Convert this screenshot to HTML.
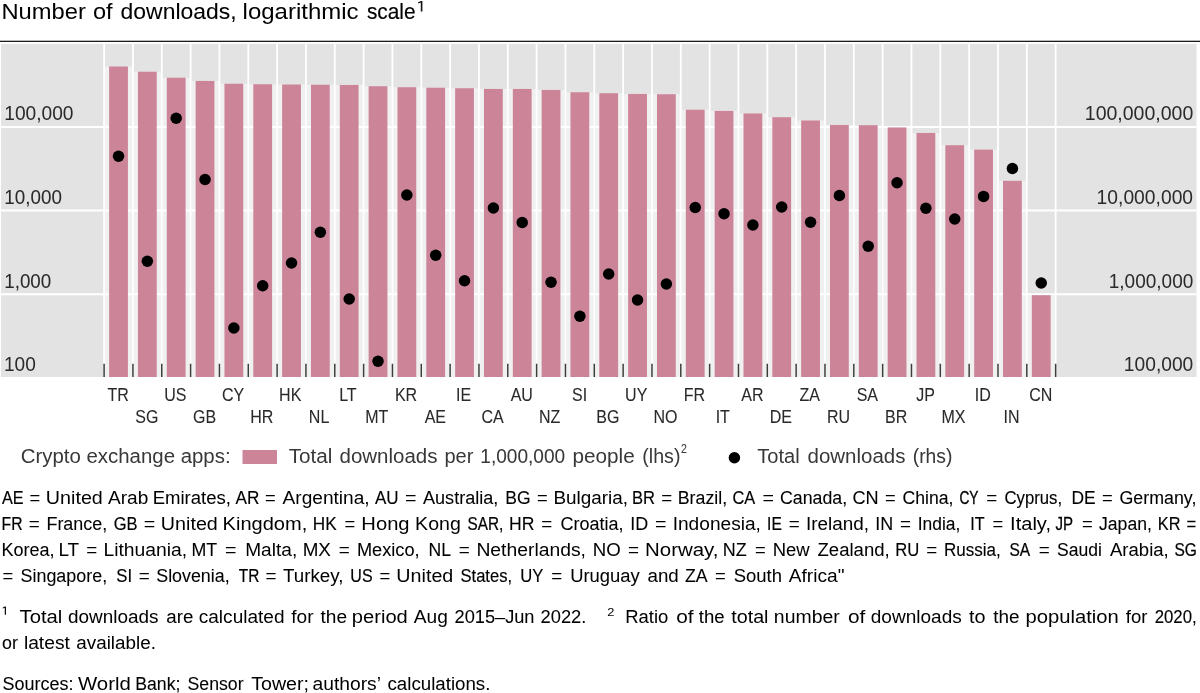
<!DOCTYPE html>
<html><head><meta charset="utf-8"><title>chart</title>
<style>
html,body{margin:0;padding:0;background:#fff;}
body{width:1200px;height:693px;position:relative;overflow:hidden;font-family:"Liberation Sans",sans-serif;}
svg{position:absolute;left:0;top:0;display:block;will-change:transform;}
svg text{font-family:"Liberation Sans",sans-serif;white-space:pre;}
</style></head><body>
<svg width="1200" height="693" viewBox="0 0 1200 693">
<rect x="1.0" y="43.8" width="1195.5" height="333.2" fill="#e3e3e3"/>
<line x1="1.0" x2="1196.5" y1="127.0" y2="127.0" stroke="#fff" stroke-width="1.8"/>
<line x1="1.0" x2="1196.5" y1="210.5" y2="210.5" stroke="#fff" stroke-width="1.8"/>
<line x1="1.0" x2="1196.5" y1="294.25" y2="294.25" stroke="#fff" stroke-width="1.8"/>
<line x1="104.10" x2="104.10" y1="43.8" y2="377.0" stroke="#fff" stroke-width="1.8"/>
<line x1="132.94" x2="132.94" y1="43.8" y2="377.0" stroke="#fff" stroke-width="1.8"/>
<line x1="161.77" x2="161.77" y1="43.8" y2="377.0" stroke="#fff" stroke-width="1.8"/>
<line x1="190.60" x2="190.60" y1="43.8" y2="377.0" stroke="#fff" stroke-width="1.8"/>
<line x1="219.44" x2="219.44" y1="43.8" y2="377.0" stroke="#fff" stroke-width="1.8"/>
<line x1="248.28" x2="248.28" y1="43.8" y2="377.0" stroke="#fff" stroke-width="1.8"/>
<line x1="277.11" x2="277.11" y1="43.8" y2="377.0" stroke="#fff" stroke-width="1.8"/>
<line x1="305.94" x2="305.94" y1="43.8" y2="377.0" stroke="#fff" stroke-width="1.8"/>
<line x1="334.78" x2="334.78" y1="43.8" y2="377.0" stroke="#fff" stroke-width="1.8"/>
<line x1="363.62" x2="363.62" y1="43.8" y2="377.0" stroke="#fff" stroke-width="1.8"/>
<line x1="392.45" x2="392.45" y1="43.8" y2="377.0" stroke="#fff" stroke-width="1.8"/>
<line x1="421.28" x2="421.28" y1="43.8" y2="377.0" stroke="#fff" stroke-width="1.8"/>
<line x1="450.12" x2="450.12" y1="43.8" y2="377.0" stroke="#fff" stroke-width="1.8"/>
<line x1="478.96" x2="478.96" y1="43.8" y2="377.0" stroke="#fff" stroke-width="1.8"/>
<line x1="507.79" x2="507.79" y1="43.8" y2="377.0" stroke="#fff" stroke-width="1.8"/>
<line x1="536.62" x2="536.62" y1="43.8" y2="377.0" stroke="#fff" stroke-width="1.8"/>
<line x1="565.46" x2="565.46" y1="43.8" y2="377.0" stroke="#fff" stroke-width="1.8"/>
<line x1="594.29" x2="594.29" y1="43.8" y2="377.0" stroke="#fff" stroke-width="1.8"/>
<line x1="623.13" x2="623.13" y1="43.8" y2="377.0" stroke="#fff" stroke-width="1.8"/>
<line x1="651.97" x2="651.97" y1="43.8" y2="377.0" stroke="#fff" stroke-width="1.8"/>
<line x1="680.80" x2="680.80" y1="43.8" y2="377.0" stroke="#fff" stroke-width="1.8"/>
<line x1="709.63" x2="709.63" y1="43.8" y2="377.0" stroke="#fff" stroke-width="1.8"/>
<line x1="738.47" x2="738.47" y1="43.8" y2="377.0" stroke="#fff" stroke-width="1.8"/>
<line x1="767.31" x2="767.31" y1="43.8" y2="377.0" stroke="#fff" stroke-width="1.8"/>
<line x1="796.14" x2="796.14" y1="43.8" y2="377.0" stroke="#fff" stroke-width="1.8"/>
<line x1="824.98" x2="824.98" y1="43.8" y2="377.0" stroke="#fff" stroke-width="1.8"/>
<line x1="853.81" x2="853.81" y1="43.8" y2="377.0" stroke="#fff" stroke-width="1.8"/>
<line x1="882.65" x2="882.65" y1="43.8" y2="377.0" stroke="#fff" stroke-width="1.8"/>
<line x1="911.48" x2="911.48" y1="43.8" y2="377.0" stroke="#fff" stroke-width="1.8"/>
<line x1="940.32" x2="940.32" y1="43.8" y2="377.0" stroke="#fff" stroke-width="1.8"/>
<line x1="969.15" x2="969.15" y1="43.8" y2="377.0" stroke="#fff" stroke-width="1.8"/>
<line x1="997.99" x2="997.99" y1="43.8" y2="377.0" stroke="#fff" stroke-width="1.8"/>
<line x1="1026.82" x2="1026.82" y1="43.8" y2="377.0" stroke="#fff" stroke-width="1.8"/>
<line x1="1055.65" x2="1055.65" y1="43.8" y2="377.0" stroke="#fff" stroke-width="1.8"/>
<rect x="104.72" y="66.45" width="27.6" height="310.55" fill="#fff" fill-opacity="0.45"/>
<rect x="133.55" y="71.7" width="27.6" height="305.30" fill="#fff" fill-opacity="0.45"/>
<rect x="162.39" y="77.7" width="27.6" height="299.30" fill="#fff" fill-opacity="0.45"/>
<rect x="191.22" y="80.95" width="27.6" height="296.05" fill="#fff" fill-opacity="0.45"/>
<rect x="220.06" y="83.7" width="27.6" height="293.30" fill="#fff" fill-opacity="0.45"/>
<rect x="248.89" y="84.2" width="27.6" height="292.80" fill="#fff" fill-opacity="0.45"/>
<rect x="277.73" y="84.45" width="27.6" height="292.55" fill="#fff" fill-opacity="0.45"/>
<rect x="306.56" y="84.7" width="27.6" height="292.30" fill="#fff" fill-opacity="0.45"/>
<rect x="335.40" y="84.95" width="27.6" height="292.05" fill="#fff" fill-opacity="0.45"/>
<rect x="364.23" y="86.2" width="27.6" height="290.80" fill="#fff" fill-opacity="0.45"/>
<rect x="393.07" y="87.2" width="27.6" height="289.80" fill="#fff" fill-opacity="0.45"/>
<rect x="421.90" y="87.7" width="27.6" height="289.30" fill="#fff" fill-opacity="0.45"/>
<rect x="450.74" y="88.2" width="27.6" height="288.80" fill="#fff" fill-opacity="0.45"/>
<rect x="479.57" y="88.95" width="27.6" height="288.05" fill="#fff" fill-opacity="0.45"/>
<rect x="508.41" y="88.95" width="27.6" height="288.05" fill="#fff" fill-opacity="0.45"/>
<rect x="537.24" y="89.95" width="27.6" height="287.05" fill="#fff" fill-opacity="0.45"/>
<rect x="566.08" y="92.2" width="27.6" height="284.80" fill="#fff" fill-opacity="0.45"/>
<rect x="594.91" y="93.2" width="27.6" height="283.80" fill="#fff" fill-opacity="0.45"/>
<rect x="623.75" y="93.95" width="27.6" height="283.05" fill="#fff" fill-opacity="0.45"/>
<rect x="652.58" y="94.2" width="27.6" height="282.80" fill="#fff" fill-opacity="0.45"/>
<rect x="681.42" y="109.7" width="27.6" height="267.30" fill="#fff" fill-opacity="0.45"/>
<rect x="710.25" y="110.95" width="27.6" height="266.05" fill="#fff" fill-opacity="0.45"/>
<rect x="739.09" y="113.45" width="27.6" height="263.55" fill="#fff" fill-opacity="0.45"/>
<rect x="767.92" y="117.2" width="27.6" height="259.80" fill="#fff" fill-opacity="0.45"/>
<rect x="796.76" y="120.45" width="27.6" height="256.55" fill="#fff" fill-opacity="0.45"/>
<rect x="825.59" y="124.95" width="27.6" height="252.05" fill="#fff" fill-opacity="0.45"/>
<rect x="854.43" y="125.2" width="27.6" height="251.80" fill="#fff" fill-opacity="0.45"/>
<rect x="883.26" y="127.45" width="27.6" height="249.55" fill="#fff" fill-opacity="0.45"/>
<rect x="912.10" y="132.95" width="27.6" height="244.05" fill="#fff" fill-opacity="0.45"/>
<rect x="940.93" y="145.2" width="27.6" height="231.80" fill="#fff" fill-opacity="0.45"/>
<rect x="969.77" y="149.6" width="27.6" height="227.40" fill="#fff" fill-opacity="0.45"/>
<rect x="998.60" y="180.79999999999998" width="27.6" height="196.20" fill="#fff" fill-opacity="0.45"/>
<rect x="1027.44" y="295.2" width="27.6" height="81.80" fill="#fff" fill-opacity="0.45"/>
<rect x="109.12" y="66.45" width="18.8" height="310.55" fill="#cc8499"/>
<rect x="137.95" y="71.7" width="18.8" height="305.30" fill="#cc8499"/>
<rect x="166.79" y="77.7" width="18.8" height="299.30" fill="#cc8499"/>
<rect x="195.62" y="80.95" width="18.8" height="296.05" fill="#cc8499"/>
<rect x="224.46" y="83.7" width="18.8" height="293.30" fill="#cc8499"/>
<rect x="253.29" y="84.2" width="18.8" height="292.80" fill="#cc8499"/>
<rect x="282.13" y="84.45" width="18.8" height="292.55" fill="#cc8499"/>
<rect x="310.96" y="84.7" width="18.8" height="292.30" fill="#cc8499"/>
<rect x="339.80" y="84.95" width="18.8" height="292.05" fill="#cc8499"/>
<rect x="368.63" y="86.2" width="18.8" height="290.80" fill="#cc8499"/>
<rect x="397.47" y="87.2" width="18.8" height="289.80" fill="#cc8499"/>
<rect x="426.30" y="87.7" width="18.8" height="289.30" fill="#cc8499"/>
<rect x="455.14" y="88.2" width="18.8" height="288.80" fill="#cc8499"/>
<rect x="483.97" y="88.95" width="18.8" height="288.05" fill="#cc8499"/>
<rect x="512.81" y="88.95" width="18.8" height="288.05" fill="#cc8499"/>
<rect x="541.64" y="89.95" width="18.8" height="287.05" fill="#cc8499"/>
<rect x="570.48" y="92.2" width="18.8" height="284.80" fill="#cc8499"/>
<rect x="599.31" y="93.2" width="18.8" height="283.80" fill="#cc8499"/>
<rect x="628.15" y="93.95" width="18.8" height="283.05" fill="#cc8499"/>
<rect x="656.98" y="94.2" width="18.8" height="282.80" fill="#cc8499"/>
<rect x="685.82" y="109.7" width="18.8" height="267.30" fill="#cc8499"/>
<rect x="714.65" y="110.95" width="18.8" height="266.05" fill="#cc8499"/>
<rect x="743.49" y="113.45" width="18.8" height="263.55" fill="#cc8499"/>
<rect x="772.32" y="117.2" width="18.8" height="259.80" fill="#cc8499"/>
<rect x="801.16" y="120.45" width="18.8" height="256.55" fill="#cc8499"/>
<rect x="829.99" y="124.95" width="18.8" height="252.05" fill="#cc8499"/>
<rect x="858.83" y="125.2" width="18.8" height="251.80" fill="#cc8499"/>
<rect x="887.66" y="127.45" width="18.8" height="249.55" fill="#cc8499"/>
<rect x="916.50" y="132.95" width="18.8" height="244.05" fill="#cc8499"/>
<rect x="945.33" y="145.2" width="18.8" height="231.80" fill="#cc8499"/>
<rect x="974.17" y="149.6" width="18.8" height="227.40" fill="#cc8499"/>
<rect x="1003.00" y="180.79999999999998" width="18.8" height="196.20" fill="#cc8499"/>
<rect x="1031.84" y="295.2" width="18.8" height="81.80" fill="#cc8499"/>
<line x1="104.10" x2="104.10" y1="363.75" y2="377.0" stroke="#3a3f3a" stroke-width="1.5"/>
<line x1="132.94" x2="132.94" y1="363.75" y2="377.0" stroke="#3a3f3a" stroke-width="1.5"/>
<line x1="161.77" x2="161.77" y1="363.75" y2="377.0" stroke="#3a3f3a" stroke-width="1.5"/>
<line x1="190.60" x2="190.60" y1="363.75" y2="377.0" stroke="#3a3f3a" stroke-width="1.5"/>
<line x1="219.44" x2="219.44" y1="363.75" y2="377.0" stroke="#3a3f3a" stroke-width="1.5"/>
<line x1="248.28" x2="248.28" y1="363.75" y2="377.0" stroke="#3a3f3a" stroke-width="1.5"/>
<line x1="277.11" x2="277.11" y1="363.75" y2="377.0" stroke="#3a3f3a" stroke-width="1.5"/>
<line x1="305.94" x2="305.94" y1="363.75" y2="377.0" stroke="#3a3f3a" stroke-width="1.5"/>
<line x1="334.78" x2="334.78" y1="363.75" y2="377.0" stroke="#3a3f3a" stroke-width="1.5"/>
<line x1="363.62" x2="363.62" y1="363.75" y2="377.0" stroke="#3a3f3a" stroke-width="1.5"/>
<line x1="392.45" x2="392.45" y1="363.75" y2="377.0" stroke="#3a3f3a" stroke-width="1.5"/>
<line x1="421.28" x2="421.28" y1="363.75" y2="377.0" stroke="#3a3f3a" stroke-width="1.5"/>
<line x1="450.12" x2="450.12" y1="363.75" y2="377.0" stroke="#3a3f3a" stroke-width="1.5"/>
<line x1="478.96" x2="478.96" y1="363.75" y2="377.0" stroke="#3a3f3a" stroke-width="1.5"/>
<line x1="507.79" x2="507.79" y1="363.75" y2="377.0" stroke="#3a3f3a" stroke-width="1.5"/>
<line x1="536.62" x2="536.62" y1="363.75" y2="377.0" stroke="#3a3f3a" stroke-width="1.5"/>
<line x1="565.46" x2="565.46" y1="363.75" y2="377.0" stroke="#3a3f3a" stroke-width="1.5"/>
<line x1="594.29" x2="594.29" y1="363.75" y2="377.0" stroke="#3a3f3a" stroke-width="1.5"/>
<line x1="623.13" x2="623.13" y1="363.75" y2="377.0" stroke="#3a3f3a" stroke-width="1.5"/>
<line x1="651.97" x2="651.97" y1="363.75" y2="377.0" stroke="#3a3f3a" stroke-width="1.5"/>
<line x1="680.80" x2="680.80" y1="363.75" y2="377.0" stroke="#3a3f3a" stroke-width="1.5"/>
<line x1="709.63" x2="709.63" y1="363.75" y2="377.0" stroke="#3a3f3a" stroke-width="1.5"/>
<line x1="738.47" x2="738.47" y1="363.75" y2="377.0" stroke="#3a3f3a" stroke-width="1.5"/>
<line x1="767.31" x2="767.31" y1="363.75" y2="377.0" stroke="#3a3f3a" stroke-width="1.5"/>
<line x1="796.14" x2="796.14" y1="363.75" y2="377.0" stroke="#3a3f3a" stroke-width="1.5"/>
<line x1="824.98" x2="824.98" y1="363.75" y2="377.0" stroke="#3a3f3a" stroke-width="1.5"/>
<line x1="853.81" x2="853.81" y1="363.75" y2="377.0" stroke="#3a3f3a" stroke-width="1.5"/>
<line x1="882.65" x2="882.65" y1="363.75" y2="377.0" stroke="#3a3f3a" stroke-width="1.5"/>
<line x1="911.48" x2="911.48" y1="363.75" y2="377.0" stroke="#3a3f3a" stroke-width="1.5"/>
<line x1="940.32" x2="940.32" y1="363.75" y2="377.0" stroke="#3a3f3a" stroke-width="1.5"/>
<line x1="969.15" x2="969.15" y1="363.75" y2="377.0" stroke="#3a3f3a" stroke-width="1.5"/>
<line x1="997.99" x2="997.99" y1="363.75" y2="377.0" stroke="#3a3f3a" stroke-width="1.5"/>
<line x1="1026.82" x2="1026.82" y1="363.75" y2="377.0" stroke="#3a3f3a" stroke-width="1.5"/>
<line x1="1055.65" x2="1055.65" y1="363.75" y2="377.0" stroke="#3a3f3a" stroke-width="1.5"/>
<circle cx="118.52" cy="156.25" r="5.75" fill="#000"/>
<circle cx="147.35" cy="261.25" r="5.75" fill="#000"/>
<circle cx="176.19" cy="118.25" r="5.75" fill="#000"/>
<circle cx="205.02" cy="179.5" r="5.75" fill="#000"/>
<circle cx="233.86" cy="328" r="5.75" fill="#000"/>
<circle cx="262.69" cy="285.75" r="5.75" fill="#000"/>
<circle cx="291.53" cy="263" r="5.75" fill="#000"/>
<circle cx="320.36" cy="232.25" r="5.75" fill="#000"/>
<circle cx="349.20" cy="299" r="5.75" fill="#000"/>
<circle cx="378.03" cy="361.25" r="5.75" fill="#000"/>
<circle cx="406.87" cy="195" r="5.75" fill="#000"/>
<circle cx="435.70" cy="255.25" r="5.75" fill="#000"/>
<circle cx="464.54" cy="280.75" r="5.75" fill="#000"/>
<circle cx="493.37" cy="208" r="5.75" fill="#000"/>
<circle cx="522.21" cy="222.5" r="5.75" fill="#000"/>
<circle cx="551.04" cy="282.25" r="5.75" fill="#000"/>
<circle cx="579.88" cy="316.25" r="5.75" fill="#000"/>
<circle cx="608.71" cy="274" r="5.75" fill="#000"/>
<circle cx="637.55" cy="300" r="5.75" fill="#000"/>
<circle cx="666.38" cy="284" r="5.75" fill="#000"/>
<circle cx="695.22" cy="207.5" r="5.75" fill="#000"/>
<circle cx="724.05" cy="213.75" r="5.75" fill="#000"/>
<circle cx="752.89" cy="225" r="5.75" fill="#000"/>
<circle cx="781.72" cy="207" r="5.75" fill="#000"/>
<circle cx="810.56" cy="222.25" r="5.75" fill="#000"/>
<circle cx="839.39" cy="195.5" r="5.75" fill="#000"/>
<circle cx="868.23" cy="246.25" r="5.75" fill="#000"/>
<circle cx="897.06" cy="182.75" r="5.75" fill="#000"/>
<circle cx="925.90" cy="208.25" r="5.75" fill="#000"/>
<circle cx="954.73" cy="219" r="5.75" fill="#000"/>
<circle cx="983.57" cy="196.4" r="5.75" fill="#000"/>
<circle cx="1012.40" cy="168.5" r="5.75" fill="#000"/>
<circle cx="1041.24" cy="283" r="5.75" fill="#000"/>
<rect x="0" y="40.7" width="1200" height="1.3" fill="#1a1a1a"/>
<text x="4.22" y="120" font-size="19.6" textLength="69.28" lengthAdjust="spacingAndGlyphs" fill="#2a2a2a">100,000</text>
<text x="4.24" y="203.7" font-size="19.6" textLength="57.66" lengthAdjust="spacingAndGlyphs" fill="#2a2a2a" stroke="#2a2a2a" stroke-width="0.04">10,000</text>
<text x="4.24" y="287.6" font-size="19.6" textLength="47.06" lengthAdjust="spacingAndGlyphs" fill="#2a2a2a" stroke="#2a2a2a" stroke-width="0.04">1,000</text>
<text x="3.92" y="370.6" font-size="19.6" textLength="31.87" lengthAdjust="spacingAndGlyphs" fill="#2a2a2a">100</text>
<text x="1084.80" y="120" font-size="19.6" textLength="108.49" lengthAdjust="spacingAndGlyphs" fill="#2a2a2a">100,000,000</text>
<text x="1096.62" y="203.7" font-size="19.6" textLength="96.48" lengthAdjust="spacingAndGlyphs" fill="#2a2a2a">10,000,000</text>
<text x="1108.73" y="287.6" font-size="19.6" textLength="84.57" lengthAdjust="spacingAndGlyphs" fill="#2a2a2a">1,000,000</text>
<text x="1123.82" y="370.6" font-size="19.6" textLength="69.48" lengthAdjust="spacingAndGlyphs" fill="#2a2a2a">100,000</text>
<text x="107.44" y="401.3" font-size="17.5" textLength="21.34" lengthAdjust="spacingAndGlyphs" fill="#2a2a2a" stroke="#2a2a2a" stroke-width="0.08">TR</text>
<text x="135.36" y="422.6" font-size="17.5" textLength="23.14" lengthAdjust="spacingAndGlyphs" fill="#2a2a2a" stroke="#2a2a2a" stroke-width="0.08">SG</text>
<text x="164.22" y="401.3" font-size="17.5" textLength="22.24" lengthAdjust="spacingAndGlyphs" fill="#2a2a2a" stroke="#2a2a2a" stroke-width="0.08">US</text>
<text x="193.06" y="422.6" font-size="17.5" textLength="23.14" lengthAdjust="spacingAndGlyphs" fill="#2a2a2a" stroke="#2a2a2a" stroke-width="0.08">GB</text>
<text x="221.89" y="401.3" font-size="17.5" textLength="22.24" lengthAdjust="spacingAndGlyphs" fill="#2a2a2a" stroke="#2a2a2a" stroke-width="0.08">CY</text>
<text x="250.26" y="422.6" font-size="17.5" textLength="23.13" lengthAdjust="spacingAndGlyphs" fill="#2a2a2a" stroke="#2a2a2a" stroke-width="0.08">HR</text>
<text x="279.10" y="401.3" font-size="17.5" textLength="22.24" lengthAdjust="spacingAndGlyphs" fill="#2a2a2a" stroke="#2a2a2a" stroke-width="0.08">HK</text>
<text x="308.85" y="422.6" font-size="17.5" textLength="20.47" lengthAdjust="spacingAndGlyphs" fill="#2a2a2a" stroke="#2a2a2a" stroke-width="0.08">NL</text>
<text x="339.15" y="401.3" font-size="17.5" textLength="17.50" lengthAdjust="spacingAndGlyphs" fill="#2a2a2a" stroke="#2a2a2a" stroke-width="0.08">LT</text>
<text x="365.17" y="422.6" font-size="17.5" textLength="23.12" lengthAdjust="spacingAndGlyphs" fill="#2a2a2a" stroke="#2a2a2a" stroke-width="0.08">MT</text>
<text x="394.88" y="401.3" font-size="17.5" textLength="22.24" lengthAdjust="spacingAndGlyphs" fill="#2a2a2a" stroke="#2a2a2a" stroke-width="0.08">KR</text>
<text x="424.63" y="422.6" font-size="17.5" textLength="21.36" lengthAdjust="spacingAndGlyphs" fill="#2a2a2a" stroke="#2a2a2a" stroke-width="0.08">AE</text>
<text x="456.12" y="401.3" font-size="17.5" textLength="15.13" lengthAdjust="spacingAndGlyphs" fill="#2a2a2a" stroke="#2a2a2a" stroke-width="0.08">IE</text>
<text x="481.40" y="422.6" font-size="17.5" textLength="22.24" lengthAdjust="spacingAndGlyphs" fill="#2a2a2a" stroke="#2a2a2a" stroke-width="0.08">CA</text>
<text x="510.68" y="401.3" font-size="17.5" textLength="22.24" lengthAdjust="spacingAndGlyphs" fill="#2a2a2a" stroke="#2a2a2a" stroke-width="0.08">AU</text>
<text x="539.07" y="422.6" font-size="17.5" textLength="21.34" lengthAdjust="spacingAndGlyphs" fill="#2a2a2a" stroke="#2a2a2a" stroke-width="0.08">NZ</text>
<text x="572.01" y="401.3" font-size="17.5" textLength="15.13" lengthAdjust="spacingAndGlyphs" fill="#2a2a2a" stroke="#2a2a2a" stroke-width="0.08">SI</text>
<text x="596.27" y="422.6" font-size="17.5" textLength="23.14" lengthAdjust="spacingAndGlyphs" fill="#2a2a2a" stroke="#2a2a2a" stroke-width="0.08">BG</text>
<text x="625.12" y="401.3" font-size="17.5" textLength="22.24" lengthAdjust="spacingAndGlyphs" fill="#2a2a2a" stroke="#2a2a2a" stroke-width="0.08">UY</text>
<text x="653.50" y="422.6" font-size="17.5" textLength="24.02" lengthAdjust="spacingAndGlyphs" fill="#2a2a2a" stroke="#2a2a2a" stroke-width="0.08">NO</text>
<text x="683.68" y="401.3" font-size="17.5" textLength="21.34" lengthAdjust="spacingAndGlyphs" fill="#2a2a2a" stroke="#2a2a2a" stroke-width="0.08">FR</text>
<text x="715.64" y="422.6" font-size="17.5" textLength="14.23" lengthAdjust="spacingAndGlyphs" fill="#2a2a2a" stroke="#2a2a2a" stroke-width="0.08">IT</text>
<text x="741.36" y="401.3" font-size="17.5" textLength="22.24" lengthAdjust="spacingAndGlyphs" fill="#2a2a2a" stroke="#2a2a2a" stroke-width="0.08">AR</text>
<text x="769.75" y="422.6" font-size="17.5" textLength="22.24" lengthAdjust="spacingAndGlyphs" fill="#2a2a2a" stroke="#2a2a2a" stroke-width="0.08">DE</text>
<text x="799.48" y="401.3" font-size="17.5" textLength="20.46" lengthAdjust="spacingAndGlyphs" fill="#2a2a2a" stroke="#2a2a2a" stroke-width="0.08">ZA</text>
<text x="826.96" y="422.6" font-size="17.5" textLength="23.13" lengthAdjust="spacingAndGlyphs" fill="#2a2a2a" stroke="#2a2a2a" stroke-width="0.08">RU</text>
<text x="856.70" y="401.3" font-size="17.5" textLength="21.36" lengthAdjust="spacingAndGlyphs" fill="#2a2a2a" stroke="#2a2a2a" stroke-width="0.08">SA</text>
<text x="885.07" y="422.6" font-size="17.5" textLength="22.24" lengthAdjust="spacingAndGlyphs" fill="#2a2a2a" stroke="#2a2a2a" stroke-width="0.08">BR</text>
<text x="916.16" y="401.3" font-size="17.5" textLength="18.69" lengthAdjust="spacingAndGlyphs" fill="#2a2a2a" stroke="#2a2a2a" stroke-width="0.08">JP</text>
<text x="941.42" y="422.6" font-size="17.5" textLength="24.02" lengthAdjust="spacingAndGlyphs" fill="#2a2a2a" stroke="#2a2a2a" stroke-width="0.08">MX</text>
<text x="974.70" y="401.3" font-size="17.5" textLength="16.01" lengthAdjust="spacingAndGlyphs" fill="#2a2a2a" stroke="#2a2a2a" stroke-width="0.08">ID</text>
<text x="1003.53" y="422.6" font-size="17.5" textLength="16.01" lengthAdjust="spacingAndGlyphs" fill="#2a2a2a" stroke="#2a2a2a" stroke-width="0.08">IN</text>
<text x="1029.27" y="401.3" font-size="17.5" textLength="23.13" lengthAdjust="spacingAndGlyphs" fill="#2a2a2a" stroke="#2a2a2a" stroke-width="0.08">CN</text>
<text x="1.40" y="19" font-size="21.6" textLength="84.41" lengthAdjust="spacingAndGlyphs" fill="#000">Number</text>
<text x="93.00" y="19" font-size="21.6" textLength="19.66" lengthAdjust="spacingAndGlyphs" fill="#000">of</text>
<text x="120.60" y="19" font-size="21.6" textLength="115.96" lengthAdjust="spacingAndGlyphs" fill="#000" stroke="#000" stroke-width="0.06">downloads,</text>
<text x="242.59" y="19" font-size="21.6" textLength="115.93" lengthAdjust="spacingAndGlyphs" fill="#000">logarithmic</text>
<text x="366.90" y="19" font-size="21.6" textLength="48.71" lengthAdjust="spacingAndGlyphs" fill="#000" stroke="#000" stroke-width="0.17">scale</text>
<path d="M420.79 0.90L422.40 0.90L422.40 11.60L420.79 11.60L420.79 2.50L418.33 3.57L417.91 2.40Z" fill="#111"/>
<text x="20.68" y="463.3" font-size="20" textLength="209.91" lengthAdjust="spacingAndGlyphs" fill="#383838">Crypto exchange apps:</text>
<rect x="242.5" y="450" width="34.5" height="14" fill="#cc8499"/>
<text x="288.75" y="463.3" font-size="20" textLength="43.71" lengthAdjust="spacingAndGlyphs" fill="#383838">Total</text>
<text x="339.50" y="463.3" font-size="20" textLength="98.00" lengthAdjust="spacingAndGlyphs" fill="#383838">downloads</text>
<text x="444.50" y="463.3" font-size="20" textLength="28.91" lengthAdjust="spacingAndGlyphs" fill="#383838">per</text>
<text x="480.30" y="463.3" font-size="20" textLength="84.82" lengthAdjust="spacingAndGlyphs" fill="#383838" stroke="#383838" stroke-width="0.05">1,000,000</text>
<text x="572.46" y="463.3" font-size="20" textLength="62.26" lengthAdjust="spacingAndGlyphs" fill="#383838">people</text>
<text x="642.32" y="463.3" font-size="20" textLength="38.13" lengthAdjust="spacingAndGlyphs" fill="#383838">(lhs)</text>
<text x="680.90" y="453.0" font-size="12" textLength="5.91" lengthAdjust="spacingAndGlyphs" fill="#383838" stroke="#383838" stroke-width="0.08">2</text>
<circle cx="734.4" cy="457.7" r="5.75" fill="#000"/>
<text x="757.20" y="463.3" font-size="20" textLength="42.45" lengthAdjust="spacingAndGlyphs" fill="#383838">Total</text>
<text x="807.50" y="463.3" font-size="20" textLength="97.90" lengthAdjust="spacingAndGlyphs" fill="#383838">downloads</text>
<text x="912.79" y="463.3" font-size="20" textLength="39.55" lengthAdjust="spacingAndGlyphs" fill="#383838" stroke="#383838" stroke-width="0.04">(rhs)</text>
<text x="2.00" y="504" font-size="17.5" textLength="21.62" lengthAdjust="spacingAndGlyphs" fill="#000" stroke="#000" stroke-width="0.18">AE</text>
<text x="29.50" y="504" font-size="17.5" textLength="10.73" lengthAdjust="spacingAndGlyphs" fill="#000" stroke="#000" stroke-width="0.06">=</text>
<text x="45.87" y="504" font-size="17.5" textLength="56.95" lengthAdjust="spacingAndGlyphs" fill="#000">United</text>
<text x="108.00" y="504" font-size="17.5" textLength="40.30" lengthAdjust="spacingAndGlyphs" fill="#000">Arab</text>
<text x="152.69" y="504" font-size="17.5" textLength="78.22" lengthAdjust="spacingAndGlyphs" fill="#000" stroke="#000" stroke-width="0.05">Emirates,</text>
<text x="235.50" y="504" font-size="17.5" textLength="23.88" lengthAdjust="spacingAndGlyphs" fill="#000" stroke="#000" stroke-width="0.12">AR</text>
<text x="265.00" y="504" font-size="17.5" textLength="10.73" lengthAdjust="spacingAndGlyphs" fill="#000" stroke="#000" stroke-width="0.06">=</text>
<text x="282.50" y="504" font-size="17.5" textLength="87.19" lengthAdjust="spacingAndGlyphs" fill="#000">Argentina,</text>
<text x="375.00" y="504" font-size="17.5" textLength="23.62" lengthAdjust="spacingAndGlyphs" fill="#000" stroke="#000" stroke-width="0.13">AU</text>
<text x="405.00" y="504" font-size="17.5" textLength="11.50" lengthAdjust="spacingAndGlyphs" fill="#000">=</text>
<text x="423.00" y="504" font-size="17.5" textLength="75.39" lengthAdjust="spacingAndGlyphs" fill="#000" stroke="#000" stroke-width="0.07">Australia,</text>
<text x="505.25" y="504" font-size="17.5" textLength="25.37" lengthAdjust="spacingAndGlyphs" fill="#000" stroke="#000" stroke-width="0.10">BG</text>
<text x="537.00" y="504" font-size="17.5" textLength="10.73" lengthAdjust="spacingAndGlyphs" fill="#000" stroke="#000" stroke-width="0.06">=</text>
<text x="553.42" y="504" font-size="17.5" textLength="74.51" lengthAdjust="spacingAndGlyphs" fill="#000" stroke="#000" stroke-width="0.03">Bulgaria,</text>
<text x="632.05" y="504" font-size="17.5" textLength="23.05" lengthAdjust="spacingAndGlyphs" fill="#000" stroke="#000" stroke-width="0.16">BR</text>
<text x="661.25" y="504" font-size="17.5" textLength="10.99" lengthAdjust="spacingAndGlyphs" fill="#000" stroke="#000" stroke-width="0.04">=</text>
<text x="677.73" y="504" font-size="17.5" textLength="49.39" lengthAdjust="spacingAndGlyphs" fill="#000" stroke="#000" stroke-width="0.09">Brazil,</text>
<text x="732.50" y="504" font-size="17.5" textLength="22.69" lengthAdjust="spacingAndGlyphs" fill="#000" stroke="#000" stroke-width="0.17">CA</text>
<text x="762.50" y="504" font-size="17.5" textLength="11.50" lengthAdjust="spacingAndGlyphs" fill="#000">=</text>
<text x="780.00" y="504" font-size="17.5" textLength="67.12" lengthAdjust="spacingAndGlyphs" fill="#000" stroke="#000" stroke-width="0.09">Canada,</text>
<text x="852.50" y="504" font-size="17.5" textLength="26.16" lengthAdjust="spacingAndGlyphs" fill="#000" stroke="#000" stroke-width="0.07">CN</text>
<text x="885.00" y="504" font-size="17.5" textLength="10.73" lengthAdjust="spacingAndGlyphs" fill="#000" stroke="#000" stroke-width="0.06">=</text>
<text x="902.50" y="504" font-size="17.5" textLength="50.87" lengthAdjust="spacingAndGlyphs" fill="#000" stroke="#000" stroke-width="0.10">China,</text>
<text x="959.50" y="504" font-size="17.5" textLength="18.99" lengthAdjust="spacingAndGlyphs" fill="#000" stroke="#000" stroke-width="0.35">CY</text>
<text x="986.25" y="504" font-size="17.5" textLength="10.99" lengthAdjust="spacingAndGlyphs" fill="#000" stroke="#000" stroke-width="0.04">=</text>
<text x="1004.50" y="504" font-size="17.5" textLength="57.57" lengthAdjust="spacingAndGlyphs" fill="#000" stroke="#000" stroke-width="0.15">Cyprus,</text>
<text x="1071.51" y="504" font-size="17.5" textLength="24.16" lengthAdjust="spacingAndGlyphs" fill="#000" stroke="#000" stroke-width="0.11">DE</text>
<text x="1102.00" y="504" font-size="17.5" textLength="10.73" lengthAdjust="spacingAndGlyphs" fill="#000" stroke="#000" stroke-width="0.06">=</text>
<text x="1119.50" y="504" font-size="17.5" textLength="76.88" lengthAdjust="spacingAndGlyphs" fill="#000" stroke="#000" stroke-width="0.09">Germany,</text>
<text x="1.60" y="530.25" font-size="17.5" textLength="20.97" lengthAdjust="spacingAndGlyphs" fill="#000" stroke="#000" stroke-width="0.21">FR</text>
<text x="28.75" y="530.25" font-size="17.5" textLength="10.99" lengthAdjust="spacingAndGlyphs" fill="#000" stroke="#000" stroke-width="0.04">=</text>
<text x="46.48" y="530.25" font-size="17.5" textLength="60.65" lengthAdjust="spacingAndGlyphs" fill="#000" stroke="#000" stroke-width="0.08">France,</text>
<text x="113.75" y="530.25" font-size="17.5" textLength="23.89" lengthAdjust="spacingAndGlyphs" fill="#000" stroke="#000" stroke-width="0.16">GB</text>
<text x="143.75" y="530.25" font-size="17.5" textLength="11.50" lengthAdjust="spacingAndGlyphs" fill="#000">=</text>
<text x="160.87" y="530.25" font-size="17.5" textLength="56.95" lengthAdjust="spacingAndGlyphs" fill="#000">United</text>
<text x="222.61" y="530.25" font-size="17.5" textLength="84.63" lengthAdjust="spacingAndGlyphs" fill="#000">Kingdom,</text>
<text x="312.77" y="530.25" font-size="17.5" textLength="23.91" lengthAdjust="spacingAndGlyphs" fill="#000" stroke="#000" stroke-width="0.12">HK</text>
<text x="344.50" y="530.25" font-size="17.5" textLength="10.73" lengthAdjust="spacingAndGlyphs" fill="#000" stroke="#000" stroke-width="0.06">=</text>
<text x="361.35" y="530.25" font-size="17.5" textLength="48.25" lengthAdjust="spacingAndGlyphs" fill="#000">Hong</text>
<text x="415.13" y="530.25" font-size="17.5" textLength="45.69" lengthAdjust="spacingAndGlyphs" fill="#000">Kong</text>
<text x="467.50" y="530.25" font-size="17.5" textLength="35.75" lengthAdjust="spacingAndGlyphs" fill="#000" stroke="#000" stroke-width="0.24">SAR,</text>
<text x="509.00" y="530.25" font-size="17.5" textLength="25.40" lengthAdjust="spacingAndGlyphs" fill="#000" stroke="#000" stroke-width="0.10">HR</text>
<text x="541.25" y="530.25" font-size="17.5" textLength="10.99" lengthAdjust="spacingAndGlyphs" fill="#000" stroke="#000" stroke-width="0.04">=</text>
<text x="560.50" y="530.25" font-size="17.5" textLength="62.88" lengthAdjust="spacingAndGlyphs" fill="#000" stroke="#000" stroke-width="0.08">Croatia,</text>
<text x="630.23" y="530.25" font-size="17.5" textLength="17.93" lengthAdjust="spacingAndGlyphs" fill="#000" stroke="#000" stroke-width="0.08">ID</text>
<text x="655.00" y="530.25" font-size="17.5" textLength="11.50" lengthAdjust="spacingAndGlyphs" fill="#000">=</text>
<text x="672.66" y="530.25" font-size="17.5" textLength="88.29" lengthAdjust="spacingAndGlyphs" fill="#000">Indonesia,</text>
<text x="767.11" y="530.25" font-size="17.5" textLength="14.74" lengthAdjust="spacingAndGlyphs" fill="#000" stroke="#000" stroke-width="0.22">IE</text>
<text x="788.75" y="530.25" font-size="17.5" textLength="10.99" lengthAdjust="spacingAndGlyphs" fill="#000" stroke="#000" stroke-width="0.04">=</text>
<text x="805.92" y="530.25" font-size="17.5" textLength="63.01" lengthAdjust="spacingAndGlyphs" fill="#000" stroke="#000" stroke-width="0.03">Ireland,</text>
<text x="875.23" y="530.25" font-size="17.5" textLength="17.93" lengthAdjust="spacingAndGlyphs" fill="#000" stroke="#000" stroke-width="0.08">IN</text>
<text x="900.00" y="530.25" font-size="17.5" textLength="10.99" lengthAdjust="spacingAndGlyphs" fill="#000" stroke="#000" stroke-width="0.04">=</text>
<text x="917.75" y="530.25" font-size="17.5" textLength="42.60" lengthAdjust="spacingAndGlyphs" fill="#000" stroke="#000" stroke-width="0.11">India,</text>
<text x="970.32" y="530.25" font-size="17.5" textLength="14.39" lengthAdjust="spacingAndGlyphs" fill="#000" stroke="#000" stroke-width="0.18">IT</text>
<text x="992.50" y="530.25" font-size="17.5" textLength="10.73" lengthAdjust="spacingAndGlyphs" fill="#000" stroke="#000" stroke-width="0.06">=</text>
<text x="1010.10" y="530.25" font-size="17.5" textLength="40.89" lengthAdjust="spacingAndGlyphs" fill="#000">Italy,</text>
<text x="1055.50" y="530.25" font-size="17.5" textLength="17.58" lengthAdjust="spacingAndGlyphs" fill="#000" stroke="#000" stroke-width="0.26">JP</text>
<text x="1082.00" y="530.25" font-size="17.5" textLength="10.73" lengthAdjust="spacingAndGlyphs" fill="#000" stroke="#000" stroke-width="0.06">=</text>
<text x="1099.00" y="530.25" font-size="17.5" textLength="52.87" lengthAdjust="spacingAndGlyphs" fill="#000" stroke="#000" stroke-width="0.10">Japan,</text>
<text x="1157.86" y="530.25" font-size="17.5" textLength="22.73" lengthAdjust="spacingAndGlyphs" fill="#000" stroke="#000" stroke-width="0.17">KR</text>
<text x="1186.50" y="530.25" font-size="17.5" textLength="9.71" lengthAdjust="spacingAndGlyphs" fill="#000" stroke="#000" stroke-width="0.16">=</text>
<text x="1.47" y="556" font-size="17.5" textLength="53.17" lengthAdjust="spacingAndGlyphs" fill="#000" stroke="#000" stroke-width="0.07">Korea,</text>
<text x="58.42" y="556" font-size="17.5" textLength="20.75" lengthAdjust="spacingAndGlyphs" fill="#000">LT</text>
<text x="86.25" y="556" font-size="17.5" textLength="10.99" lengthAdjust="spacingAndGlyphs" fill="#000" stroke="#000" stroke-width="0.04">=</text>
<text x="103.40" y="556" font-size="17.5" textLength="83.81" lengthAdjust="spacingAndGlyphs" fill="#000">Lithuania,</text>
<text x="191.48" y="556" font-size="17.5" textLength="25.70" lengthAdjust="spacingAndGlyphs" fill="#000" stroke="#000" stroke-width="0.09">MT</text>
<text x="225.00" y="556" font-size="17.5" textLength="11.50" lengthAdjust="spacingAndGlyphs" fill="#000">=</text>
<text x="245.16" y="556" font-size="17.5" textLength="52.03" lengthAdjust="spacingAndGlyphs" fill="#000">Malta,</text>
<text x="302.67" y="556" font-size="17.5" textLength="28.22" lengthAdjust="spacingAndGlyphs" fill="#000" stroke="#000" stroke-width="0.04">MX</text>
<text x="338.75" y="556" font-size="17.5" textLength="10.99" lengthAdjust="spacingAndGlyphs" fill="#000" stroke="#000" stroke-width="0.04">=</text>
<text x="356.96" y="556" font-size="17.5" textLength="62.69" lengthAdjust="spacingAndGlyphs" fill="#000" stroke="#000" stroke-width="0.07">Mexico,</text>
<text x="428.49" y="556" font-size="17.5" textLength="22.49" lengthAdjust="spacingAndGlyphs" fill="#000" stroke="#000" stroke-width="0.10">NL</text>
<text x="458.75" y="556" font-size="17.5" textLength="10.99" lengthAdjust="spacingAndGlyphs" fill="#000" stroke="#000" stroke-width="0.04">=</text>
<text x="476.40" y="556" font-size="17.5" textLength="109.56" lengthAdjust="spacingAndGlyphs" fill="#000">Netherlands,</text>
<text x="592.68" y="556" font-size="17.5" textLength="27.97" lengthAdjust="spacingAndGlyphs" fill="#000" stroke="#000" stroke-width="0.04">NO</text>
<text x="628.00" y="556" font-size="17.5" textLength="10.99" lengthAdjust="spacingAndGlyphs" fill="#000" stroke="#000" stroke-width="0.04">=</text>
<text x="645.08" y="556" font-size="17.5" textLength="73.42" lengthAdjust="spacingAndGlyphs" fill="#000">Norway,</text>
<text x="722.72" y="556" font-size="17.5" textLength="23.96" lengthAdjust="spacingAndGlyphs" fill="#000" stroke="#000" stroke-width="0.08">NZ</text>
<text x="755.00" y="556" font-size="17.5" textLength="10.73" lengthAdjust="spacingAndGlyphs" fill="#000" stroke="#000" stroke-width="0.06">=</text>
<text x="772.70" y="556" font-size="17.5" textLength="36.92" lengthAdjust="spacingAndGlyphs" fill="#000" stroke="#000" stroke-width="0.05">New</text>
<text x="817.50" y="556" font-size="17.5" textLength="72.16" lengthAdjust="spacingAndGlyphs" fill="#000" stroke="#000" stroke-width="0.05">Zealand,</text>
<text x="895.30" y="556" font-size="17.5" textLength="24.06" lengthAdjust="spacingAndGlyphs" fill="#000" stroke="#000" stroke-width="0.15">RU</text>
<text x="926.25" y="556" font-size="17.5" textLength="10.99" lengthAdjust="spacingAndGlyphs" fill="#000" stroke="#000" stroke-width="0.04">=</text>
<text x="944.03" y="556" font-size="17.5" textLength="56.81" lengthAdjust="spacingAndGlyphs" fill="#000" stroke="#000" stroke-width="0.13">Russia,</text>
<text x="1009.50" y="556" font-size="17.5" textLength="20.71" lengthAdjust="spacingAndGlyphs" fill="#000" stroke="#000" stroke-width="0.23">SA</text>
<text x="1038.75" y="556" font-size="17.5" textLength="10.99" lengthAdjust="spacingAndGlyphs" fill="#000" stroke="#000" stroke-width="0.04">=</text>
<text x="1057.00" y="556" font-size="17.5" textLength="44.89" lengthAdjust="spacingAndGlyphs" fill="#000" stroke="#000" stroke-width="0.10">Saudi</text>
<text x="1110.00" y="556" font-size="17.5" textLength="58.71" lengthAdjust="spacingAndGlyphs" fill="#000" stroke="#000" stroke-width="0.05">Arabia,</text>
<text x="1174.50" y="556" font-size="17.5" textLength="22.44" lengthAdjust="spacingAndGlyphs" fill="#000" stroke="#000" stroke-width="0.23">SG</text>
<text x="2.50" y="581.5" font-size="17.5" textLength="10.73" lengthAdjust="spacingAndGlyphs" fill="#000" stroke="#000" stroke-width="0.06">=</text>
<text x="20.50" y="581.5" font-size="17.5" textLength="86.63" lengthAdjust="spacingAndGlyphs" fill="#000" stroke="#000" stroke-width="0.08">Singapore,</text>
<text x="116.25" y="581.5" font-size="17.5" textLength="15.83" lengthAdjust="spacingAndGlyphs" fill="#000" stroke="#000" stroke-width="0.15">SI</text>
<text x="138.75" y="581.5" font-size="17.5" textLength="10.99" lengthAdjust="spacingAndGlyphs" fill="#000" stroke="#000" stroke-width="0.04">=</text>
<text x="156.25" y="581.5" font-size="17.5" textLength="73.38" lengthAdjust="spacingAndGlyphs" fill="#000" stroke="#000" stroke-width="0.09">Slovenia,</text>
<text x="238.75" y="581.5" font-size="17.5" textLength="20.56" lengthAdjust="spacingAndGlyphs" fill="#000" stroke="#000" stroke-width="0.23">TR</text>
<text x="265.50" y="581.5" font-size="17.5" textLength="10.99" lengthAdjust="spacingAndGlyphs" fill="#000" stroke="#000" stroke-width="0.04">=</text>
<text x="283.00" y="581.5" font-size="17.5" textLength="60.42" lengthAdjust="spacingAndGlyphs" fill="#000" stroke="#000" stroke-width="0.04">Turkey,</text>
<text x="350.33" y="581.5" font-size="17.5" textLength="22.28" lengthAdjust="spacingAndGlyphs" fill="#000" stroke="#000" stroke-width="0.19">US</text>
<text x="379.50" y="581.5" font-size="17.5" textLength="10.73" lengthAdjust="spacingAndGlyphs" fill="#000" stroke="#000" stroke-width="0.06">=</text>
<text x="396.37" y="581.5" font-size="17.5" textLength="56.95" lengthAdjust="spacingAndGlyphs" fill="#000">United</text>
<text x="460.50" y="581.5" font-size="17.5" textLength="51.57" lengthAdjust="spacingAndGlyphs" fill="#000" stroke="#000" stroke-width="0.16">States,</text>
<text x="520.30" y="581.5" font-size="17.5" textLength="23.14" lengthAdjust="spacingAndGlyphs" fill="#000" stroke="#000" stroke-width="0.15">UY</text>
<text x="551.25" y="581.5" font-size="17.5" textLength="10.99" lengthAdjust="spacingAndGlyphs" fill="#000" stroke="#000" stroke-width="0.04">=</text>
<text x="570.20" y="581.5" font-size="17.5" textLength="69.54" lengthAdjust="spacingAndGlyphs" fill="#000" stroke="#000" stroke-width="0.06">Uruguay</text>
<text x="647.50" y="581.5" font-size="17.5" textLength="31.29" lengthAdjust="spacingAndGlyphs" fill="#000" stroke="#000" stroke-width="0.04">and</text>
<text x="685.00" y="581.5" font-size="17.5" textLength="22.67" lengthAdjust="spacingAndGlyphs" fill="#000" stroke="#000" stroke-width="0.09">ZA</text>
<text x="715.00" y="581.5" font-size="17.5" textLength="10.73" lengthAdjust="spacingAndGlyphs" fill="#000" stroke="#000" stroke-width="0.06">=</text>
<text x="733.75" y="581.5" font-size="17.5" textLength="48.27" lengthAdjust="spacingAndGlyphs" fill="#000" stroke="#000" stroke-width="0.05">South</text>
<text x="788.75" y="581.5" font-size="17.5" textLength="55.73" lengthAdjust="spacingAndGlyphs" fill="#000">Africa&quot;</text>
<path d="M4.76 606.50L6.00 606.50L6.00 614.80L4.76 614.80L4.76 607.75L2.85 608.58L2.51 607.66Z" fill="#0c0c0c"/>
<text x="19.50" y="623" font-size="17.5" textLength="42.78" lengthAdjust="spacingAndGlyphs" fill="#000">Total</text>
<text x="68.00" y="623" font-size="17.5" textLength="90.48" lengthAdjust="spacingAndGlyphs" fill="#000" stroke="#000" stroke-width="0.03">downloads</text>
<text x="166.25" y="623" font-size="17.5" textLength="27.03" lengthAdjust="spacingAndGlyphs" fill="#000" stroke="#000" stroke-width="0.04">are</text>
<text x="198.75" y="623" font-size="17.5" textLength="85.80" lengthAdjust="spacingAndGlyphs" fill="#000">calculated</text>
<text x="291.25" y="623" font-size="17.5" textLength="22.31" lengthAdjust="spacingAndGlyphs" fill="#000">for</text>
<text x="320.50" y="623" font-size="17.5" textLength="26.55" lengthAdjust="spacingAndGlyphs" fill="#000">the</text>
<text x="351.85" y="623" font-size="17.5" textLength="55.99" lengthAdjust="spacingAndGlyphs" fill="#000">period</text>
<text x="413.75" y="623" font-size="17.5" textLength="34.05" lengthAdjust="spacingAndGlyphs" fill="#000">Aug</text>
<text x="454.50" y="623" font-size="17.5" textLength="80.01" lengthAdjust="spacingAndGlyphs" fill="#000" stroke="#000" stroke-width="0.07">2015–Jun</text>
<text x="540.50" y="623" font-size="17.5" textLength="45.90" lengthAdjust="spacingAndGlyphs" fill="#000" stroke="#000" stroke-width="0.06">2022.</text>
<text x="607.30" y="615.5" font-size="11.5" textLength="7.14" lengthAdjust="spacingAndGlyphs" fill="#000">2</text>
<text x="625.20" y="623" font-size="17.5" textLength="43.08" lengthAdjust="spacingAndGlyphs" fill="#000" stroke="#000" stroke-width="0.05">Ratio</text>
<text x="676.25" y="623" font-size="17.5" textLength="17.34" lengthAdjust="spacingAndGlyphs" fill="#000">of</text>
<text x="698.75" y="623" font-size="17.5" textLength="25.78" lengthAdjust="spacingAndGlyphs" fill="#000" stroke="#000" stroke-width="0.05">the</text>
<text x="731.25" y="623" font-size="17.5" textLength="37.25" lengthAdjust="spacingAndGlyphs" fill="#000">total</text>
<text x="773.89" y="623" font-size="17.5" textLength="65.92" lengthAdjust="spacingAndGlyphs" fill="#000">number</text>
<text x="848.00" y="623" font-size="17.5" textLength="17.34" lengthAdjust="spacingAndGlyphs" fill="#000">of</text>
<text x="870.80" y="623" font-size="17.5" textLength="90.93" lengthAdjust="spacingAndGlyphs" fill="#000">downloads</text>
<text x="969.00" y="623" font-size="17.5" textLength="16.53" lengthAdjust="spacingAndGlyphs" fill="#000">to</text>
<text x="993.20" y="623" font-size="17.5" textLength="26.29" lengthAdjust="spacingAndGlyphs" fill="#000" stroke="#000" stroke-width="0.03">the</text>
<text x="1025.44" y="623" font-size="17.5" textLength="93.30" lengthAdjust="spacingAndGlyphs" fill="#000">population</text>
<text x="1125.80" y="623" font-size="17.5" textLength="21.62" lengthAdjust="spacingAndGlyphs" fill="#000" stroke="#000" stroke-width="0.05">for</text>
<text x="1154.70" y="623" font-size="17.5" textLength="41.93" lengthAdjust="spacingAndGlyphs" fill="#000" stroke="#000" stroke-width="0.15">2020,</text>
<text x="2.00" y="649" font-size="17.5" textLength="15.82" lengthAdjust="spacingAndGlyphs" fill="#000" stroke="#000" stroke-width="0.09">or</text>
<text x="23.90" y="649" font-size="17.5" textLength="45.95" lengthAdjust="spacingAndGlyphs" fill="#000">latest</text>
<text x="76.25" y="649" font-size="17.5" textLength="79.68" lengthAdjust="spacingAndGlyphs" fill="#000" stroke="#000" stroke-width="0.03">available.</text>
<text x="2.50" y="689.75" font-size="17.5" textLength="70.88" lengthAdjust="spacingAndGlyphs" fill="#000" stroke="#000" stroke-width="0.08">Sources:</text>
<text x="78.00" y="689.75" font-size="17.5" textLength="52.85" lengthAdjust="spacingAndGlyphs" fill="#000">World</text>
<text x="135.24" y="689.75" font-size="17.5" textLength="45.13" lengthAdjust="spacingAndGlyphs" fill="#000" stroke="#000" stroke-width="0.10">Bank;</text>
<text x="187.50" y="689.75" font-size="17.5" textLength="56.08" lengthAdjust="spacingAndGlyphs" fill="#000" stroke="#000" stroke-width="0.09">Sensor</text>
<text x="251.25" y="689.75" font-size="17.5" textLength="57.72" lengthAdjust="spacingAndGlyphs" fill="#000">Tower;</text>
<text x="312.50" y="689.75" font-size="17.5" textLength="68.48" lengthAdjust="spacingAndGlyphs" fill="#000">authors’</text>
<text x="387.50" y="689.75" font-size="17.5" textLength="102.92" lengthAdjust="spacingAndGlyphs" fill="#000" stroke="#000" stroke-width="0.04">calculations.</text>
</svg>
</body></html>
